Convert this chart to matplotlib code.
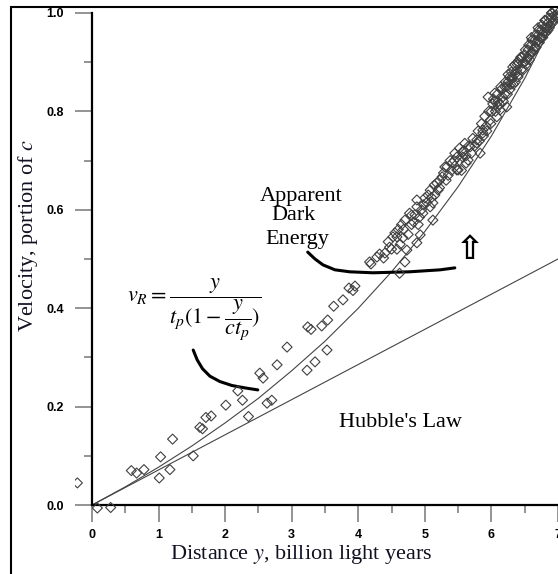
import matplotlib
matplotlib.use('Agg')
import matplotlib.pyplot as plt
from matplotlib.patches import Rectangle

plt.rcParams['font.family'] = ['Liberation Serif', 'DejaVu Serif']
plt.rcParams['mathtext.fontset'] = 'stix'

# observed points: distance (billion ly) and velocity (portion of c)
dist = [-0.22, 0.08, 0.28, 0.59, 0.67, 0.78, 1.03, 1.01, 1.17, 1.21,
        1.52, 1.62, 1.66, 1.71, 1.79, 2.01, 2.19, 2.26, 2.35, 2.52,
        2.57, 2.63, 2.70, 2.78, 2.93, 3.23, 3.35, 3.53, 3.24, 3.29,
        3.45, 3.54, 3.63, 3.77, 3.86, 3.95, 3.92,
        4.17, 4.19, 4.38, 4.28, 4.40, 4.62, 4.70, 4.47, 4.52, 4.55,
        4.58, 4.67, 4.73, 4.70, 4.77, 4.80, 4.88, 4.93, 4.88, 4.92,
        4.97, 4.88, 5.00, 5.08, 5.12, 5.12, 5.08, 5.18, 5.26, 5.30,
        5.33, 5.41, 5.48, 5.50, 5.48, 5.57, 5.57, 5.65, 5.68, 5.78,
        5.78, 5.83, 5.87, 5.87,
        4.60, 4.65, 4.83, 4.95, 5.03, 5.15, 5.20, 5.22, 5.35, 5.38,
        5.45, 5.52, 5.60, 5.62,
        4.32, 4.45, 4.50, 4.58, 4.63, 4.68, 4.75, 4.80, 4.85, 4.90,
        4.98, 5.05, 5.10, 5.14, 5.22, 5.28, 5.32, 5.40, 5.44,
        5.95, 6.05, 6.17, 6.23, 6.31, 6.38, 6.47, 6.13, 6.23, 6.08,
        5.98, 5.92, 6.00, 6.02, 6.10, 6.15, 6.20, 6.25, 6.28, 6.30,
        6.33, 6.35, 6.40, 6.42, 6.45, 6.50, 6.52, 6.55, 6.57, 6.60,
        6.62, 6.65, 6.67, 6.70, 6.72, 6.75, 6.77, 6.80, 6.82, 6.85,
        6.87, 6.90, 6.92, 6.95, 6.97, 7.00, 6.25, 6.35, 6.45, 6.55,
        6.65, 6.75, 6.85, 6.60, 6.70, 6.80, 6.90,
        5.52, 5.55, 5.58, 5.62, 5.66, 5.70, 5.72, 5.75, 5.80, 5.82,
        5.85, 5.88, 5.90, 5.93, 5.96, 5.99, 6.03, 6.06, 6.09, 6.12,
        6.14, 6.18, 6.21, 6.24, 6.27, 6.29, 6.32, 6.36, 6.39, 6.41,
        6.44, 6.48, 6.51, 6.53, 6.56, 6.58, 6.61, 6.63, 6.66, 6.68,
        6.71, 6.73, 6.76, 6.78, 6.81, 6.83, 6.86, 6.88, 6.91, 6.93,
        6.96, 6.98, 6.40, 6.50, 6.60, 6.70, 6.20, 6.10, 6.30, 6.05]
vel = [0.045, -0.006, -0.005, 0.070, 0.065, 0.072, 0.098, 0.055, 0.072, 0.134,
       0.100, 0.158, 0.155, 0.178, 0.181, 0.203, 0.232, 0.213, 0.180, 0.268,
       0.258, 0.207, 0.213, 0.285, 0.321, 0.274, 0.291, 0.315, 0.362, 0.357,
       0.364, 0.376, 0.404, 0.417, 0.441, 0.445, 0.436,
       0.494, 0.490, 0.502, 0.504, 0.512, 0.471, 0.494, 0.524, 0.545, 0.553,
       0.520, 0.543, 0.518, 0.579, 0.593, 0.589, 0.533, 0.549, 0.606, 0.585,
       0.593, 0.620, 0.624, 0.606, 0.579, 0.614, 0.640, 0.654, 0.667, 0.687,
       0.687, 0.695, 0.681, 0.681, 0.707, 0.717, 0.707, 0.701, 0.728, 0.742,
       0.736, 0.715, 0.762, 0.756,
       0.560, 0.570, 0.575, 0.600, 0.615, 0.630, 0.640, 0.660, 0.670, 0.700,
       0.715, 0.725, 0.735, 0.710,
       0.510, 0.535, 0.520, 0.545, 0.530, 0.560, 0.550, 0.570, 0.590, 0.570,
       0.610, 0.630, 0.625, 0.650, 0.645, 0.675, 0.660, 0.680, 0.700,
       0.829, 0.837, 0.829, 0.850, 0.870, 0.884, 0.898, 0.803, 0.809, 0.789,
       0.782, 0.770, 0.800, 0.815, 0.820, 0.845, 0.835, 0.860, 0.845, 0.880,
       0.855, 0.895, 0.870, 0.905, 0.885, 0.915, 0.895, 0.925, 0.905, 0.935,
       0.920, 0.945, 0.930, 0.955, 0.940, 0.965, 0.950, 0.970, 0.960, 0.980,
       0.970, 0.990, 0.980, 0.995, 0.990, 1.000, 0.875, 0.875, 0.910, 0.910,
       0.930, 0.950, 0.965, 0.950, 0.970, 0.985, 1.000,
       0.700, 0.680, 0.720, 0.695, 0.730, 0.715, 0.745, 0.730, 0.760, 0.740,
       0.775, 0.750, 0.790, 0.760, 0.800, 0.775, 0.825, 0.800, 0.835, 0.815,
       0.850, 0.820, 0.860, 0.835, 0.870, 0.855, 0.890, 0.860, 0.895, 0.875,
       0.910, 0.885, 0.925, 0.905, 0.935, 0.915, 0.945, 0.925, 0.955, 0.940,
       0.965, 0.950, 0.975, 0.960, 0.985, 0.970, 0.990, 0.975, 1.000, 0.985,
       1.005, 0.995, 0.900, 0.900, 0.920, 0.945, 0.850, 0.810, 0.865, 0.820]

# model curve v_R
curve_x = [0, 0.5, 1, 1.5, 2, 2.5, 3, 3.5, 4, 4.5, 5, 5.5, 6, 6.5, 7]
curve_v = [0, 0.037, 0.077, 0.120, 0.167, 0.217, 0.273, 0.333, 0.400,
           0.474, 0.556, 0.647, 0.750, 0.867, 1.000]

# Hubble's law line
hubble_x = [0, 7]
hubble_v = [0, 0.5]

# hand drawn pointer strokes
stroke1_x = [1.52, 1.58, 1.66, 1.77, 1.92, 2.10, 2.30, 2.49]
stroke1_v = [0.315, 0.295, 0.277, 0.262, 0.251, 0.243, 0.238, 0.234]
stroke2_x = [3.24, 3.35, 3.47, 3.65, 3.87, 4.22, 4.77, 5.23, 5.45]
stroke2_v = [0.514, 0.500, 0.488, 0.478, 0.474, 0.472, 0.474, 0.478, 0.482]

fig = plt.figure(figsize=(5.58, 5.74), dpi=100)
ax = fig.add_axes([0.1351, 0.0944, 0.8649, 0.8916])
ax.set_xlim(-0.25, 7.0)
ax.set_ylim(-0.03, 1.01)

ax.plot(hubble_x, hubble_v, color='#444444', lw=0.8)
ax.plot(curve_x, curve_v, color='#444444', lw=0.8)
ax.scatter(dist, vel, marker='D', s=26, facecolors='none',
           edgecolors='#404040', linewidths=0.8, zorder=3)
ax.plot(stroke1_x, stroke1_v, color='black', lw=2.2, solid_capstyle='round')
ax.plot(stroke2_x, stroke2_v, color='black', lw=2.2, solid_capstyle='round')

for s in ['top', 'right']:
    ax.spines[s].set_visible(False)
ax.spines['left'].set_position(('data', 0))
ax.spines['bottom'].set_position(('data', 0))
ax.spines['left'].set_bounds(0, 1.0)
ax.spines['bottom'].set_bounds(0, 7)
ax.spines['left'].set_linewidth(1.6)
ax.spines['bottom'].set_linewidth(1.6)

ax.set_xticks(range(8))
ax.set_xticks([i + 0.5 for i in range(7)], minor=True)
ax.set_yticks([0, 0.2, 0.4, 0.6, 0.8, 1.0])
ax.set_yticks([0.1, 0.3, 0.5, 0.7, 0.9], minor=True)
ax.set_yticklabels(['0.0', '0.2', '0.4', '0.6', '0.8', '1.0'])
ax.tick_params(which='major', length=12, width=1.1, color='#777777')
ax.tick_params(which='minor', length=6, width=1.1, color='#777777')
ax.tick_params(axis='y', pad=8)
ax.tick_params(axis='x', pad=5)
for lab in ax.get_xticklabels() + ax.get_yticklabels():
    lab.set_family('Liberation Sans')
    lab.set_fontweight('bold')
    lab.set_fontsize(9)

fig.text(28 / 558, 1 - 235 / 574, 'Velocity, portion of $c$', rotation=90,
         ha='center', va='center', fontsize=16, color='#111122')
fig.text(301 / 558, 1 - 559 / 574, 'Distance $y$, billion light years',
         ha='center', va='baseline', fontsize=16, color='#111122')

ax.text(0.53, 0.396, r'$v_R = \dfrac{y}{t_p(1-\dfrac{y}{ct_p})}$',
        ha='left', va='center', fontsize=16)
ax.text(2.52, 0.618, 'Apparent', fontsize=16, va='baseline')
ax.text(2.69, 0.579, 'Dark', fontsize=16, va='baseline')
ax.text(2.61, 0.530, 'Energy', fontsize=16, va='baseline')
ax.text(3.71, 0.159, "Hubble's Law", fontsize=16, va='baseline')
ax.text(5.68, 0.52, '\u21e7', family='DejaVu Sans', fontsize=24,
        fontweight='bold', ha='center', va='center')

fig.add_artist(Rectangle((11 / 558, -0.1), 1.5, 1.0878, transform=fig.transFigure,
                         fill=False, edgecolor='black', lw=1.5))

plt.savefig('out.png', dpi=100)
